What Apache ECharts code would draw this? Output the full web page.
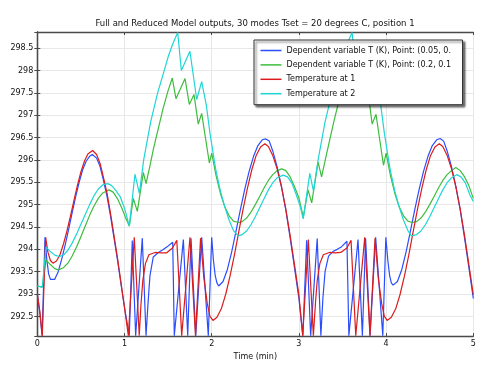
<!DOCTYPE html>
<html><head><meta charset="utf-8">
<script src="https://cdn.jsdelivr.net/npm/echarts@6/dist/echarts.min.js"></script>
<style>html,body{margin:0;padding:0;background:#fff;}#c{width:479px;height:366px;}</style>
</head><body><div id="c"></div>
<script>
const titleText = 'Full and Reduced Model outputs, 30 modes Tset = 20 degrees C, position 1';
const seriesNames = ['Dependent variable T (K), Point: (0.05, 0.', 'Dependent variable T (K), Point: (0.2, 0.1', 'Temperature at 1', 'Temperature at 2'];
const xTicks = [0, 1, 2, 3, 4, 5];
const yTickStep = 0.5;

const blueT = [0,0.03,0.055,0.088,0.11,0.13,0.15,0.165,0.20,0.24,0.28,0.32,0.36,0.40,0.44,0.48,0.52,0.56,0.60,0.63,0.68,0.72,0.76,0.80,0.84,0.88,0.92,0.96,1.00,1.055,
 1.089,1.128,1.204,1.247,1.27,1.292,1.33,1.388,1.44,1.484,1.553,1.571,1.675,1.725,1.763,1.817,1.885,1.961,2.0,2.02,2.04,2.06,2.08,
 2.13,2.18,2.23,2.28,2.33,2.38,2.43,2.48,2.53,2.58,2.62,2.66,2.70,2.75,2.80,2.85,2.90,2.95,3.00,3.045,
 3.089,3.135,3.21,3.252,3.275,3.30,3.34,3.39,3.44,3.49,3.551,3.573,3.678,3.728,3.765,3.816,3.88,3.962,3.997,4.02,4.04,4.06,4.08,
 4.13,4.18,4.23,4.28,4.33,4.38,4.43,4.48,4.53,4.58,4.62,4.66,4.70,4.75,4.80,4.85,4.90,4.95,5.00];
const blueV = [293.0,292.55,292.07,294.27,293.75,293.45,293.33,293.29,293.33,293.5,293.78,294.1,294.45,294.82,295.18,295.5,295.78,295.97,296.08,296.12,296.04,295.85,295.53,295.18,294.74,294.25,293.76,293.22,292.7,292.07,
 294.2,292.07,294.25,292.07,292.8,293.41,293.83,293.93,293.99,294.05,294.16,292.07,294.22,292.07,294.25,292.07,294.27,292.07,294.27,293.75,293.42,293.25,293.18,
 293.28,293.55,293.95,294.42,294.9,295.35,295.75,296.08,296.32,296.45,296.47,296.42,296.2,295.85,295.4,294.88,294.25,293.58,292.9,292.07,
 294.2,292.07,294.24,292.07,292.9,293.5,293.85,293.95,294.0,294.06,294.18,292.07,294.22,292.07,294.25,292.07,294.27,292.07,294.27,293.75,293.42,293.25,293.2,
 293.28,293.55,293.95,294.42,294.9,295.35,295.75,296.08,296.32,296.45,296.48,296.42,296.2,295.85,295.4,294.88,294.25,293.58,292.9];

const greenT = [0,0.057,0.10,0.15,0.20,0.24,0.30,0.35,0.40,0.45,0.50,0.55,0.60,0.65,0.70,0.75,0.823,0.87,0.92,0.97,1.01,1.055,
 1.101,1.147,1.216,1.247,1.29,1.33,1.39,1.445,1.50,1.548,1.59,1.694,1.743,1.797,1.846,1.885,1.973,2.0,
 2.05,2.10,2.15,2.20,2.25,2.305,2.35,2.40,2.45,2.50,2.55,2.60,2.65,2.70,2.75,2.803,2.85,2.90,2.95,3.0,3.05,
 3.105,3.147,3.22,3.26,3.30,3.34,3.40,3.45,3.50,3.55,3.59,3.694,3.743,3.797,3.84,3.884,3.97,4.0,
 4.05,4.10,4.15,4.20,4.25,4.30,4.35,4.40,4.45,4.50,4.55,4.60,4.65,4.70,4.75,4.80,4.85,4.90,4.95,5.0];
const greenV = [293.18,293.16,293.76,293.66,293.57,293.54,293.59,293.69,293.85,294.05,294.28,294.52,294.76,294.97,295.14,295.26,295.33,295.28,295.13,294.92,294.72,294.52,
 295.14,294.85,295.72,295.47,295.85,296.23,296.72,297.17,297.55,297.83,297.37,297.82,297.24,297.46,296.8,297.04,295.93,296.15,
 295.65,295.25,294.95,294.75,294.63,294.6,294.62,294.70,294.83,295.0,295.18,295.37,295.54,295.67,295.76,295.8,295.76,295.62,295.4,295.15,294.72,
 295.33,295.04,295.95,295.62,295.98,296.33,296.85,297.25,297.6,297.85,297.4,297.84,297.24,297.46,296.8,297.02,295.88,296.15,
 295.65,295.25,294.95,294.75,294.63,294.6,294.62,294.70,294.83,295.0,295.18,295.37,295.54,295.67,295.76,295.83,295.76,295.62,295.42,295.14];

const redT = [0,0.03,0.057,0.096,0.12,0.15,0.18,0.22,0.26,0.30,0.34,0.38,0.42,0.46,0.50,0.54,0.58,0.634,0.68,0.72,0.76,0.80,0.84,0.88,0.92,0.96,1.00,1.044,
 1.112,1.169,1.19,1.21,1.24,1.28,1.35,1.42,1.48,1.55,1.60,1.656,1.751,1.814,1.872,1.91,1.95,1.98,2.015,
 2.06,2.11,2.16,2.21,2.26,2.31,2.36,2.41,2.46,2.51,2.56,2.61,2.65,2.70,2.75,2.80,2.85,2.90,2.95,3.00,3.044,
 3.108,3.166,3.19,3.21,3.24,3.28,3.35,3.42,3.48,3.55,3.598,3.652,3.755,3.815,3.873,3.91,3.95,3.98,4.012,
 4.06,4.11,4.16,4.21,4.26,4.31,4.36,4.41,4.46,4.51,4.56,4.61,4.65,4.70,4.75,4.80,4.85,4.90,4.95,5.00];
const redV = [293.0,292.6,292.07,294.27,293.95,293.75,293.69,293.74,293.88,294.12,294.41,294.74,295.09,295.43,295.73,295.97,296.13,296.21,296.12,295.92,295.6,295.25,294.8,294.3,293.8,293.25,292.7,292.07,
 294.27,292.07,292.8,293.3,293.68,293.88,293.93,293.92,293.92,294.03,294.2,292.07,294.27,292.07,294.25,293.36,292.78,292.5,292.41,
 292.48,292.67,292.99,293.40,293.87,294.39,294.90,295.37,295.78,296.10,296.29,296.36,296.3,296.1,295.8,295.4,294.9,294.3,293.65,292.98,292.07,
 294.22,292.07,292.8,293.3,293.68,293.88,293.93,293.92,293.93,294.03,294.2,292.07,294.27,292.07,294.25,293.36,292.78,292.5,292.41,
 292.48,292.67,292.99,293.40,293.87,294.39,294.90,295.37,295.78,296.10,296.29,296.36,296.3,296.1,295.8,295.4,294.9,294.3,293.65,292.98];

const cyanT = [0,0.057,0.10,0.15,0.20,0.25,0.30,0.35,0.40,0.45,0.50,0.55,0.60,0.65,0.70,0.75,0.807,0.85,0.90,0.95,1.00,1.055,
 1.12,1.17,1.22,1.30,1.38,1.445,1.50,1.55,1.61,1.652,1.75,1.828,1.885,1.94,1.98,2.02,2.05,2.10,2.15,2.20,2.25,2.305,
 2.35,2.40,2.45,2.50,2.55,2.60,2.65,2.70,2.75,2.82,2.87,2.92,2.97,3.015,3.05,
 3.125,3.167,3.22,3.30,3.38,3.445,3.50,3.55,3.61,3.652,3.75,3.828,3.885,3.94,3.98,4.02,4.05,4.10,4.15,4.20,4.25,4.29,
 4.35,4.40,4.45,4.50,4.55,4.60,4.65,4.70,4.75,4.81,4.86,4.91,4.96,5.0];
const cyanV = [293.18,293.15,294.05,293.95,293.87,293.84,293.87,293.98,294.14,294.34,294.56,294.78,295.0,295.2,295.35,295.44,295.47,295.43,295.32,295.18,294.92,294.52,
 295.68,295.25,296.0,296.85,297.5,297.93,298.3,298.58,298.85,298.0,298.43,297.35,297.75,297.2,296.6,296.1,295.75,295.3,294.95,294.65,294.42,294.3,
 294.33,294.41,294.55,294.73,294.93,295.13,295.33,295.49,295.6,295.66,295.62,295.48,295.22,294.96,294.68,
 295.7,295.3,296.0,296.85,297.5,297.93,298.3,298.58,298.85,298.0,298.43,297.35,297.75,297.2,296.6,296.1,295.75,295.3,294.95,294.65,294.42,294.3,
 294.33,294.41,294.55,294.73,294.93,295.13,295.33,295.49,295.6,295.67,295.62,295.48,295.22,295.07];

const pairs = (t, v) => t.map((x, i) => [x, v[i]]);
const colors = ['#2a4dff', '#3dbd3d', '#dc1c1c', '#1fd5d5'];
const font = 'DejaVu Sans';
const yMin = 292.06, yMax = 298.86;

const chart = echarts.init(document.getElementById('c'), null, {renderer: 'canvas'});
const axisLineStyle = {color: '#4a4a4a', width: 1.3};
const gridLine = {show: true, lineStyle: {color: '#e8e8e8', width: 1}};
const mkSeries = (name, t, v, c) => ({
  name, type: 'line', data: pairs(t, v), showSymbol: false, symbol: 'none',
  lineStyle: {color: c, width: 1.2}, itemStyle: {color: c}, animation: false,
  emphasis: {disabled: true}
});
chart.setOption({
  animation: false,
  backgroundColor: '#fff',
  title: {text: titleText, left: 255, top: 19.5, padding: 0, textAlign: 'center',
    textStyle: {fontFamily: font, fontSize: 8.5, fontWeight: 'normal', color: '#111'}},
  grid: {left: 37.3, right: 5.7, top: 32, bottom: 22.7, show: false},
  legend: {
    orient: 'vertical', left: 254, top: 40, padding: [5.5, 1, 6, 6.5],
    itemWidth: 21, itemHeight: 1.5, itemGap: 4.4, icon: 'rect', selectedMode: false,
    data: seriesNames,
    textStyle: {fontFamily: font, fontSize: 8, color: '#111', lineHeight: 10, width: 175, overflow: 'truncate', ellipsis: ''},
    backgroundColor: '#fff', borderColor: '#333', borderWidth: 1,
    shadowColor: 'rgba(0,0,0,0.55)', shadowBlur: 2, shadowOffsetX: 2, shadowOffsetY: 2
  },
  xAxis: [
    {type: 'value', min: xTicks[0], max: xTicks[xTicks.length - 1], interval: 1, position: 'bottom',
     name: 'Time (min)', nameLocation: 'middle', nameGap: 16,
     nameTextStyle: {fontFamily: font, fontSize: 8, color: '#111'},
     axisLine: {show: true, lineStyle: axisLineStyle},
     axisTick: {show: true, inside: true, length: 3, lineStyle: {color: '#4a4a4a'}},
     axisLabel: {fontFamily: font, fontSize: 8, color: '#111', margin: 4},
     splitLine: gridLine},
    {type: 'value', min: xTicks[0], max: xTicks[xTicks.length - 1], interval: 1, position: 'top',
     axisLine: {show: true, lineStyle: axisLineStyle},
     axisTick: {show: true, inside: true, length: 3, lineStyle: {color: '#4a4a4a'}},
     axisLabel: {show: false}, splitLine: {show: false}}
  ],
  yAxis: [
    {type: 'value', min: yMin, max: yMax, splitNumber: 13, minInterval: yTickStep, maxInterval: yTickStep, position: 'left',
     axisLine: {show: true, lineStyle: axisLineStyle},
     axisTick: {show: true, inside: true, length: 3, lineStyle: {color: '#4a4a4a'}},
     axisLabel: {fontFamily: font, fontSize: 8, color: '#111', margin: 4, showMinLabel: false, showMaxLabel: false,
       formatter: v => String(+v.toFixed(1))},
     splitLine: gridLine},
    {type: 'value', min: yMin, max: yMax, splitNumber: 13, minInterval: yTickStep, maxInterval: yTickStep, position: 'right',
     axisLine: {show: true, lineStyle: axisLineStyle},
     axisTick: {show: true, inside: true, length: 3, lineStyle: {color: '#4a4a4a'}},
     axisLabel: {show: false}, splitLine: {show: false}}
  ],
  series: [
    mkSeries(seriesNames[0], blueT, blueV, colors[0]),
    mkSeries(seriesNames[1], greenT, greenV, colors[1]),
    mkSeries(seriesNames[2], redT, redV, colors[2]),
    mkSeries(seriesNames[3], cyanT, cyanV, colors[3])
  ]
});
</script></body></html>
